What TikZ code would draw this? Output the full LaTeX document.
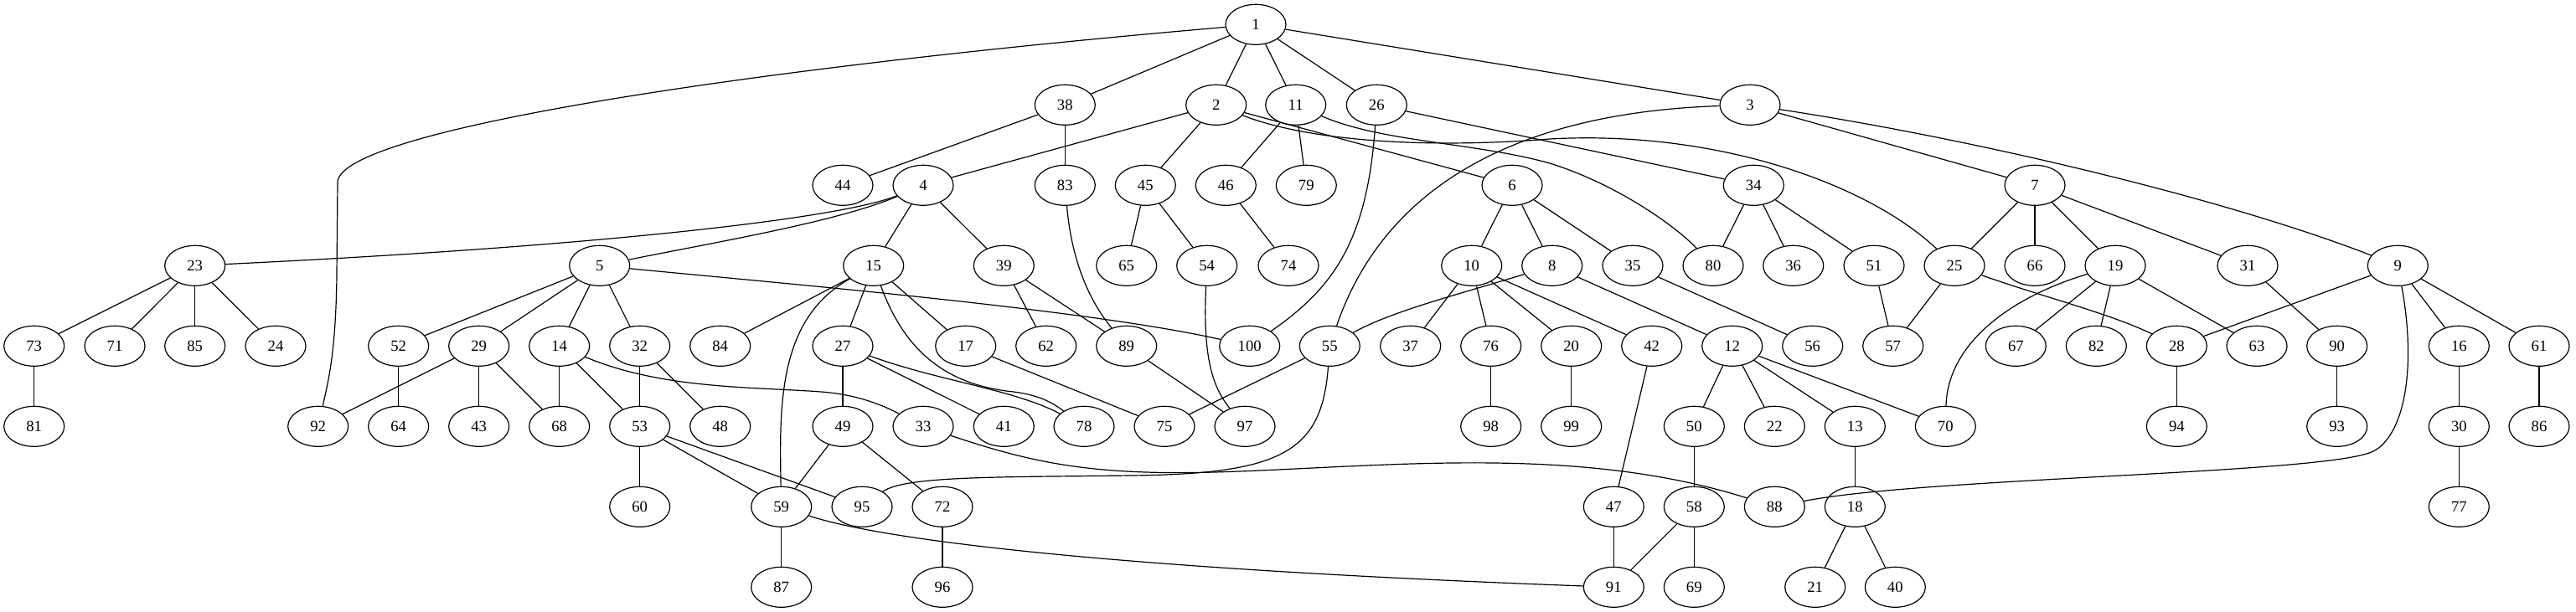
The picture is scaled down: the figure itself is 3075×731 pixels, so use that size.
\documentclass[tikz,border=0pt]{standalone}
\usepackage{fontspec}
\setmainfont{Liberation Serif}
\usetikzlibrary{shapes.geometric}
\begin{document}
\begin{tikzpicture}[x=0.75pt,y=-0.75pt,
  nd/.style={draw,ellipse,line width=0.9pt,minimum width=54pt,minimum height=36pt,inner sep=0pt,font=\fontsize{14}{16}\selectfont},
  ed/.style={line width=0.9pt}]
\fill[white] (0,0) rectangle (3075,731);
\useasboundingbox (0,0) rectangle (3075,731);
% rank 0
\node[nd] (n1) at (1499,29.3) {1};
% rank 1
\foreach \n/\x in {38/1271.3,2/1451.7,11/1546.7,26/1643.3,3/2089}
  \node[nd] (n\n) at (\x,125.3) {\n};
% rank 2
\foreach \n/\x in {44/1006,4/1102,83/1271.3,45/1367.3,46/1463.3,79/1559.3,6/1805,34/2093.3,7/2429}
  \node[nd] (n\n) at (\x,221.3) {\n};
% rank 3
\foreach \n/\x in {23/232.7,5/715.7,15/1042.7,39/1198.3,65/1344.7,54/1440.7,74/1538,10/1756.7,8/1852.7,35/1949,80/2045,36/2140.7,51/2237,25/2333,66/2429,19/2525,31/2683,9/2862.3}
  \node[nd] (n\n) at (\x,317.3) {\n};
% rank 4
\foreach \n/\x in {73/40.7,71/137,85/232.7,24/329,52/475.7,29/571.7,14/667.7,32/763.7,84/859.7,27/1006,17/1152.7,62/1248.7,89/1344.7,100/1491.7,55/1587.3,37/1683.7,76/1779.7,20/1875.7,42/1971.7,12/2067.7,56/2163.7,57/2259.7,67/2406.3,82/2502.3,28/2598.3,63/2694,90/2789.7,16/2935.3,61/3031}
  \node[nd] (n\n) at (\x,413.3) {\n};
% rank 5
\foreach \n/\x in {81/40.7,92/379.7,64/475.7,43/571.7,68/667.7,53/763.7,48/859.7,49/1006,33/1102,41/1198.3,78/1294,75/1390,97/1486,98/1779.7,99/1875.7,50/2022.3,22/2118.3,13/2214.3,70/2322.3,94/2598.3,93/2789.7,30/2935.3,86/3031}
  \node[nd] (n\n) at (\x,509.3) {\n};
% rank 6
\foreach \n/\x in {60/763.7,59/932.7,95/1029,72/1125,47/1926.3,58/2022.3,88/2118.3,18/2214.3,77/2935.3}
  \node[nd] (n\n) at (\x,605.3) {\n};
% rank 7
\foreach \n/\x in {87/932.7,96/1125,91/1926.3,69/2022.3,21/2166.7,40/2262.3}
  \node[nd] (n\n) at (\x,701.3) {\n};
% straight connectors
\foreach \a/\b in {1/38,1/2,1/11,1/26,1/3,38/44,38/83,2/4,2/45,2/6,11/46,11/79,26/34,3/7,
  4/15,4/39,45/65,45/54,46/74,6/10,6/8,6/35,34/80,34/36,34/51,7/25,7/66,7/19,7/31,
  23/73,23/71,23/85,23/24,5/52,5/29,5/14,5/32,15/84,15/27,15/17,39/62,39/89,
  10/37,10/76,10/20,10/42,8/12,35/56,51/57,25/57,19/67,19/82,19/63,31/90,9/28,9/16,9/61,
  73/81,52/64,29/92,29/43,29/68,14/68,14/53,32/53,32/48,27/49,27/41,17/75,89/97,55/75,42/47,
  12/50,12/22,12/13,12/70,28/94,90/93,16/30,61/86,76/98,20/99,49/59,49/72,53/60,53/59,53/95,
  50/58,13/18,30/77,59/87,47/91,58/91,58/69,18/21,18/40,72/96}
  \draw[ed] (n\a) -- (n\b);
% curved connectors
\draw[ed] (n1) .. controls (863,84) and (403,158) .. (403,218) -- (402,328) .. controls (401,420) and (392,455) .. (n92);
\draw[ed] (n3) .. controls (1800,135) and (1650,230) .. (n55);
\draw[ed] (n2) .. controls (1560,168) and (1700,178) .. (1850,166) .. controls (2050,155) and (2230,220) .. (n25);
\draw[ed] (n11) .. controls (1650,170) and (1760,170) .. (1850,195) .. controls (1930,220) and (2000,270) .. (n80);
\draw[ed] (n26) .. controls (1632,290) and (1590,345) .. (n100);
\draw[ed] (n83) .. controls (1280,320) and (1305,365) .. (n89);
\draw[ed] (n54) .. controls (1436,420) and (1445,460) .. (n97);
\draw[ed] (n15) .. controls (930,380) and (930,480) .. (n59);
\draw[ed] (n15) .. controls (1080,420) and (1130,460) .. (1210,468) .. controls (1240,472) and (1255,480) .. (n78);
\draw[ed] (n27) .. controls (1120,455) and (1210,465) .. (n78);
\draw[ed] (n14) .. controls (790,465) and (900,462) .. (980,468) .. controls (1020,471) and (1050,482) .. (n33);
\draw[ed] (n55) .. controls (1578,540) and (1530,566) .. (1350,568) .. controls (1200,570) and (1080,568) .. (n95);
\draw[ed] (n33) .. controls (1230,552) and (1300,568) .. (1450,564) .. controls (1650,558) and (1880,530) .. (n88);
\draw[ed] (n9) .. controls (2885,440) and (2870,520) .. (2833,539) .. controls (2780,566) and (2300,570) .. (n88);
\draw[ed] (n59) .. controls (1060,647) and (1350,680) .. (n91);
\draw[ed] (n19) .. controls (2400,355) and (2325,410) .. (n70);
\draw[ed] (n25) .. controls (2440,355) and (2520,375) .. (n28);
\draw[ed] (n8) .. controls (1740,352) and (1660,372) .. (n55);
\draw[ed] (n4) .. controls (1000,262) and (700,295) .. (n23);
\draw[ed] (n4) .. controls (1000,265) and (850,290) .. (n5);
\draw[ed] (n5) .. controls (950,340) and (1300,370) .. (n100);
\draw[ed] (n3) .. controls (2350,165) and (2650,235) .. (n9);
\end{tikzpicture}
\end{document}
